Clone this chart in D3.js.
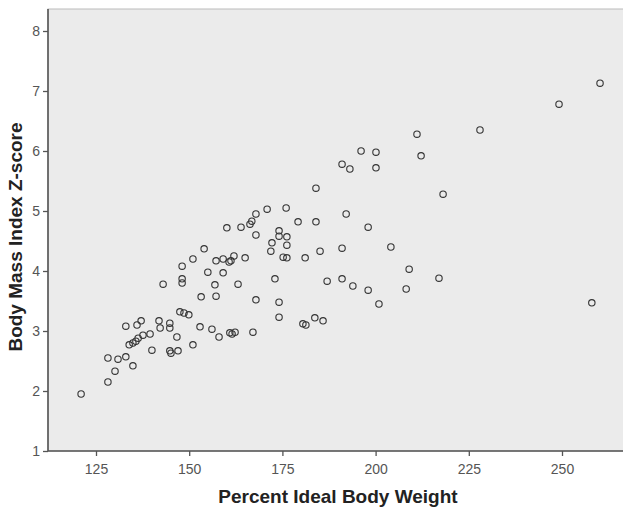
<!DOCTYPE html>
<html>
<head>
<meta charset="utf-8">
<script src="https://cdn.jsdelivr.net/npm/d3@7/dist/d3.min.js"></script>
<style>
  body{margin:0;background:#fff;}
  svg{display:block;}
</style>
</head>
<body>
<script>
// percent ideal body weight (x) vs BMI z-score (y)
var pibw=[260.2,249.2,228.0,211.1,196.1,200.1,212.2,191.0,193.1,200.1,
  184.0,218.1,192.1,179.2,184.0,198.0,181.1,185.1,191.0,204.1,
  209.0,217.0,187.0,191.0,193.9,198.0,208.2,200.9,258.0,181.3,
  183.7,185.9,180.5,170.9,176.0,167.9,166.8,166.3,160.1,163.9,
  167.9,174.1,174.1,176.2,172.2,176.2,171.9,175.2,176.2,154.0,
  151.0,157.2,159.1,161.2,162.0,160.7,165.0,148.1,155.0,159.1,
  148.1,148.1,163.1,173.0,156.9,143.0,153.2,157.2,167.9,174.1,
  174.1,147.5,148.6,149.9,152.9,156.1,158.0,160.9,161.5,162.3,
  167.1,146.7,147.0,151.0,133.0,136.0,137.1,141.9,144.8,142.2,
  144.8,139.5,137.6,135.7,134.9,136.3,133.9,140.0,144.8,145.1,
  128.2,130.9,133.0,134.9,130.1,128.2,121.0];
var bmiz=[7.13,6.78,6.35,6.28,6.00,5.98,5.92,5.78,5.70,5.72,
  5.38,5.28,4.95,4.82,4.82,4.73,4.22,4.33,4.38,4.40,
  4.03,3.88,3.83,3.87,3.75,3.68,3.70,3.45,3.47,3.10,
  3.22,3.17,3.12,5.03,5.05,4.95,4.83,4.78,4.72,4.73,
  4.60,4.67,4.58,4.57,4.47,4.43,4.33,4.23,4.22,4.37,
  4.20,4.17,4.20,4.17,4.25,4.15,4.22,4.08,3.98,3.97,
  3.87,3.80,3.78,3.87,3.77,3.78,3.57,3.58,3.52,3.48,
  3.23,3.32,3.30,3.27,3.07,3.03,2.90,2.97,2.95,2.98,
  2.98,2.90,2.67,2.77,3.08,3.10,3.17,3.17,3.13,3.05,
  3.05,2.95,2.93,2.83,2.80,2.88,2.77,2.68,2.67,2.63,
  2.55,2.53,2.57,2.42,2.33,2.15,1.95];
var xTicks=[125,150,175,200,225,250];
var yTicks=[1,2,3,4,5,6,7,8];
var xTitle='Percent Ideal Body Weight';
var yTitle='Body Mass Index Z-score';

var W=623,H=511;
var plotL=48,plotT=9,plotB=451,plotR=640;
var font='"Liberation Sans", Arial, sans-serif';
var svg=d3.select('body').append('svg').attr('width',W).attr('height',H);

var x=d3.scaleLinear().domain([125,250]).range([96,562]);
var y=d3.scaleLinear().domain([1,8]).range([plotB,31]);

// plot background
svg.append('rect')
  .attr('x',plotL).attr('y',plotT)
  .attr('width',plotR-plotL).attr('height',plotB-plotT)
  .attr('fill','#ebebeb')
  .attr('stroke','#bcbcbc').attr('stroke-width',1);

var xAxis=svg.append('g').attr('transform','translate(0,'+plotB+')')
  .call(d3.axisBottom(x).tickValues(xTicks).tickSize(5).tickSizeOuter(0));
var yAxis=svg.append('g').attr('transform','translate('+plotL+',0)')
  .call(d3.axisLeft(y).tickValues(yTicks).tickFormat(d3.format('d')).tickSize(5).tickSizeOuter(0));

[xAxis,yAxis].forEach(function(a){
  a.select('.domain').remove();
  a.selectAll('line').attr('stroke','#555').attr('stroke-width',1.3);
  a.selectAll('text')
    .attr('fill','#555')
    .style('font-family',font)
    .style('font-size','14px');
});
xAxis.selectAll('text').attr('dy','1.1em');
yAxis.selectAll('text').attr('x',-8);

// axis lines
svg.append('line').attr('x1',plotL).attr('x2',W).attr('y1',plotB).attr('y2',plotB)
  .attr('stroke','#555').attr('stroke-width',1.6);
svg.append('line').attr('x1',plotL).attr('x2',plotL).attr('y1',plotT).attr('y2',plotB)
  .attr('stroke','#555').attr('stroke-width',1.6);

// points
svg.append('g').selectAll('circle')
  .data(d3.range(pibw.length))
  .enter().append('circle')
  .attr('cx',function(i){return x(pibw[i]);})
  .attr('cy',function(i){return y(bmiz[i]);})
  .attr('r',3.2)
  .attr('fill','none')
  .attr('stroke','#333')
  .attr('stroke-width',1.1);

svg.append('text')
  .attr('x',338).attr('y',503)
  .attr('text-anchor','middle')
  .attr('fill','#222')
  .style('font-family',font)
  .style('font-weight','bold')
  .style('font-size','19px')
  .text(xTitle);

svg.append('text')
  .attr('transform','translate(22,237) rotate(-90)')
  .attr('text-anchor','middle')
  .attr('fill','#222')
  .style('font-family',font)
  .style('font-weight','bold')
  .style('font-size','19px')
  .text(yTitle);
</script>
</body>
</html>
